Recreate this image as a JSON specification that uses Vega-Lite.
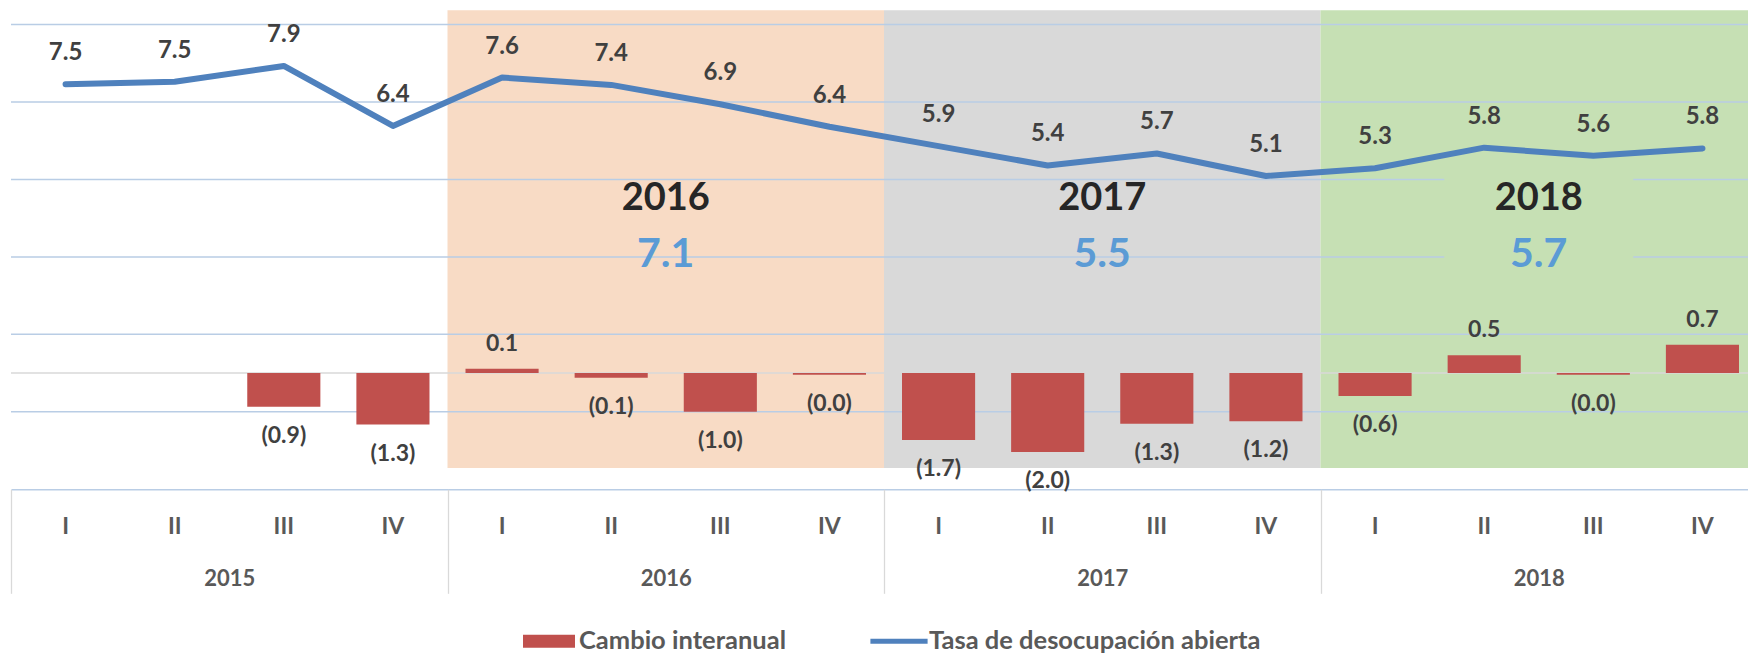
{
  "$schema": "https://vega.github.io/schema/vega-lite/v6.json",
  "width": 1737,
  "height": 480.3,
  "autosize": {"type": "none"},
  "padding": {"left": 11, "top": 9, "right": 0, "bottom": 166.7},
  "background": "white",
  "config": {"view": {"stroke": null}, "font": "Lato"},
  "datasets": {
    "years": [
      {"year": "2016", "avg": 7.1},
      {"year": "2017", "avg": 5.5},
      {"year": "2018", "avg": 5.7}
    ],
    "grid": [{"v": -1}, {"v": 1}, {"v": 3}, {"v": 5}, {"v": 7}, {"v": 9}],
    "q": [
      {"q": "2015-I", "tasa": 7.46, "cambio": null, "clabel": null},
      {"q": "2015-II", "tasa": 7.52, "cambio": null, "clabel": null},
      {"q": "2015-III", "tasa": 7.93, "cambio": -0.87, "clabel": "(0.9)"},
      {"q": "2015-IV", "tasa": 6.38, "cambio": -1.33, "clabel": "(1.3)"},
      {"q": "2016-I", "tasa": 7.63, "cambio": 0.11, "clabel": "0.1"},
      {"q": "2016-II", "tasa": 7.44, "cambio": -0.12, "clabel": "(0.1)"},
      {"q": "2016-III", "tasa": 6.94, "cambio": -1.0, "clabel": "(1.0)"},
      {"q": "2016-IV", "tasa": 6.36, "cambio": -0.04, "clabel": "(0.0)"},
      {"q": "2017-I", "tasa": 5.86, "cambio": -1.73, "clabel": "(1.7)"},
      {"q": "2017-II", "tasa": 5.36, "cambio": -2.04, "clabel": "(2.0)"},
      {"q": "2017-III", "tasa": 5.67, "cambio": -1.31, "clabel": "(1.3)"},
      {"q": "2017-IV", "tasa": 5.09, "cambio": -1.24, "clabel": "(1.2)"},
      {"q": "2018-I", "tasa": 5.29, "cambio": -0.59, "clabel": "(0.6)"},
      {"q": "2018-II", "tasa": 5.82, "cambio": 0.46, "clabel": "0.5"},
      {"q": "2018-III", "tasa": 5.61, "cambio": -0.04, "clabel": "(0.0)"},
      {"q": "2018-IV", "tasa": 5.80, "cambio": 0.73, "clabel": "0.7"}
    ]
  },
  "resolve": {"scale": {"x": "independent"}, "axis": {"x": "independent"}},
  "layer": [
    {
      "data": {"name": "years"},
      "mark": {"type": "rect"},
      "encoding": {
        "x": {
          "field": "year", "type": "nominal",
          "scale": {"domain": ["2015", "2016", "2017", "2018"], "range": [0, 1746], "paddingInner": 0, "paddingOuter": 0},
          "axis": {
            "orient": "bottom", "title": null, "domain": false, "ticks": true, "tickBand": "extent",
            "tickSize": 104, "tickColor": "#D9D9D9", "tickWidth": 1.3, "labelPadding": -15,
            "labelBaseline": "middle", "labelFont": "Lato", "labelFontSize": 22, "labelFontWeight": "bold",
            "labelColor": "#595959", "labelAngle": 0, "grid": false
          }
        },
        "y": {"datum": 9.37, "type": "quantitative", "scale": {"domain": [-3, 9.4], "nice": false, "zero": false}, "axis": null},
        "y2": {"datum": -2.45},
        "fill": {
          "field": "year", "type": "nominal",
          "scale": {"domain": ["2016", "2017", "2018"], "range": ["#F8DBC5", "#D9D9D9", "#C6E0B4"]},
          "legend": null
        }
      }
    },
    {
      "data": {"name": "grid"},
      "mark": {"type": "rule", "color": "#B9CDE5", "strokeWidth": 1.5},
      "encoding": {
        "y": {"field": "v", "type": "quantitative", "scale": {"domain": [-3, 9.4], "nice": false, "zero": false}, "axis": null}
      }
    },
    {
      "data": {"values": [{}]},
      "mark": {"type": "rule", "color": "#D9D9D9", "strokeWidth": 1.5},
      "encoding": {
        "y": {"datum": 0, "type": "quantitative", "scale": {"domain": [-3, 9.4], "nice": false, "zero": false}, "axis": null}
      }
    },
    {
      "data": {"name": "years"},
      "transform": [{"filter": "datum.year == '2018'"}],
      "mark": {"type": "bar", "width": {"band": 0.433}, "color": "#C6E0B4"},
      "encoding": {
        "x": {
          "field": "year", "type": "nominal",
          "scale": {"domain": ["2015", "2016", "2017", "2018"], "range": [0, 1746], "paddingInner": 0, "paddingOuter": 0},
          "axis": null
        },
        "y": {"datum": 5.24, "type": "quantitative", "scale": {"domain": [-3, 9.4], "nice": false, "zero": false}, "axis": null},
        "y2": {"datum": 2.66}
      }
    },
    {
      "data": {"name": "q"},
      "encoding": {
        "x": {
          "field": "q", "type": "nominal",
          "scale": {
            "domain": ["2015-I", "2015-II", "2015-III", "2015-IV", "2016-I", "2016-II", "2016-III", "2016-IV", "2017-I", "2017-II", "2017-III", "2017-IV", "2018-I", "2018-II", "2018-III", "2018-IV"],
            "range": [0, 1746], "paddingInner": 0, "paddingOuter": 0
          },
          "axis": {
            "orient": "bottom", "title": null, "labelExpr": "split(datum.value, '-')[1]", "ticks": false,
            "domain": true, "domainColor": "#B9CDE5", "domainWidth": 1.5, "labelPadding": 37,
            "labelBaseline": "middle", "labelFont": "Lato", "labelFontSize": 23, "labelFontWeight": "bold",
            "labelColor": "#595959", "labelAngle": 0, "grid": false
          }
        }
      },
      "layer": [
        {
          "mark": {"type": "bar", "width": {"band": 0.67}},
          "encoding": {
            "y": {"field": "cambio", "type": "quantitative", "scale": {"domain": [-3, 9.4], "nice": false, "zero": false}, "axis": null},
            "color": {
              "datum": "Cambio interanual",
              "scale": {"domain": ["Cambio interanual", "Tasa de desocupación abierta"], "range": ["#C0504D", "#4F81BD"]},
              "legend": {
                "title": null, "orient": "none", "legendX": 512, "legendY": 606, "direction": "horizontal",
                "symbolSize": 2704, "labelFont": "Lato", "labelFontSize": 25.5, "labelFontWeight": "bold",
                "labelColor": "#595959", "labelOffset": 4, "columnPadding": 84, "labelLimit": 500, "padding": 0,
                "encode": {
                  "symbols": {
                    "update": {
                      "shape": {"signal": "datum.value === 'Cambio interanual' ? 'M-1,-0.25H1V0.25H-1Z' : 'M-1.1,-0.1H1.1V0.1H-1.1Z'"},
                      "fill": {"scale": "color", "field": "value"},
                      "stroke": {"value": "transparent"},
                      "strokeWidth": {"value": 0},
                      "opacity": {"value": 1}
                    }
                  }
                }
              }
            }
          }
        },
        {
          "mark": {"type": "line", "strokeWidth": 6, "strokeCap": "round", "strokeJoin": "round"},
          "encoding": {
            "y": {"field": "tasa", "type": "quantitative", "scale": {"domain": [-3, 9.4], "nice": false, "zero": false}, "axis": null},
            "color": {
              "datum": "Tasa de desocupación abierta",
              "scale": {"domain": ["Cambio interanual", "Tasa de desocupación abierta"], "range": ["#C0504D", "#4F81BD"]},
              "legend": {
                "title": null, "orient": "none", "legendX": 512, "legendY": 606, "direction": "horizontal",
                "symbolSize": 2704, "labelFont": "Lato", "labelFontSize": 25.5, "labelFontWeight": "bold",
                "labelColor": "#595959", "labelOffset": 4, "columnPadding": 84, "labelLimit": 500, "padding": 0,
                "encode": {
                  "symbols": {
                    "update": {
                      "shape": {"signal": "datum.value === 'Cambio interanual' ? 'M-1,-0.25H1V0.25H-1Z' : 'M-1.1,-0.1H1.1V0.1H-1.1Z'"},
                      "fill": {"scale": "color", "field": "value"},
                      "stroke": {"value": "transparent"},
                      "strokeWidth": {"value": 0},
                      "opacity": {"value": 1}
                    }
                  }
                }
              }
            }
          }
        },
        {
          "mark": {"type": "text", "font": "Lato", "fontSize": 24, "fontWeight": "bold", "color": "#404040", "baseline": "middle", "dy": -31},
          "encoding": {
            "y": {"field": "tasa", "type": "quantitative", "scale": {"domain": [-3, 9.4], "nice": false, "zero": false}, "axis": null},
            "text": {"field": "tasa", "type": "quantitative", "format": ".1f"}
          }
        },
        {
          "transform": [{"filter": "isValid(datum.cambio) && datum.cambio > 0"}],
          "mark": {"type": "text", "font": "Lato", "fontSize": 23, "fontWeight": "bold", "color": "#404040", "baseline": "middle", "dy": -25},
          "encoding": {
            "y": {"field": "cambio", "type": "quantitative", "scale": {"domain": [-3, 9.4], "nice": false, "zero": false}, "axis": null},
            "text": {"field": "clabel", "type": "nominal"}
          }
        },
        {
          "transform": [{"filter": "isValid(datum.cambio) && datum.cambio <= 0"}],
          "mark": {"type": "text", "font": "Lato", "fontSize": 23, "fontWeight": "bold", "color": "#404040", "baseline": "middle", "dy": 29},
          "encoding": {
            "y": {"field": "cambio", "type": "quantitative", "scale": {"domain": [-3, 9.4], "nice": false, "zero": false}, "axis": null},
            "text": {"field": "clabel", "type": "nominal"}
          }
        }
      ]
    },
    {
      "data": {"name": "years"},
      "encoding": {
        "x": {
          "field": "year", "type": "nominal",
          "scale": {"domain": ["2015", "2016", "2017", "2018"], "range": [0, 1746], "paddingInner": 0, "paddingOuter": 0},
          "axis": null
        }
      },
      "layer": [
        {
          "mark": {"type": "text", "font": "Lato", "fontSize": 38, "fontWeight": "bold", "color": "#262626", "baseline": "middle"},
          "encoding": {
            "y": {"datum": 4.49, "type": "quantitative", "scale": {"domain": [-3, 9.4], "nice": false, "zero": false}, "axis": null},
            "text": {"field": "year", "type": "nominal"}
          }
        },
        {
          "mark": {"type": "text", "font": "Lato", "fontSize": 41, "fontWeight": "bold", "color": "#5B9BD5", "baseline": "middle"},
          "encoding": {
            "y": {"datum": 3.06, "type": "quantitative", "scale": {"domain": [-3, 9.4], "nice": false, "zero": false}, "axis": null},
            "text": {"field": "avg", "type": "quantitative", "format": ".1f"}
          }
        }
      ]
    }
  ]
}
